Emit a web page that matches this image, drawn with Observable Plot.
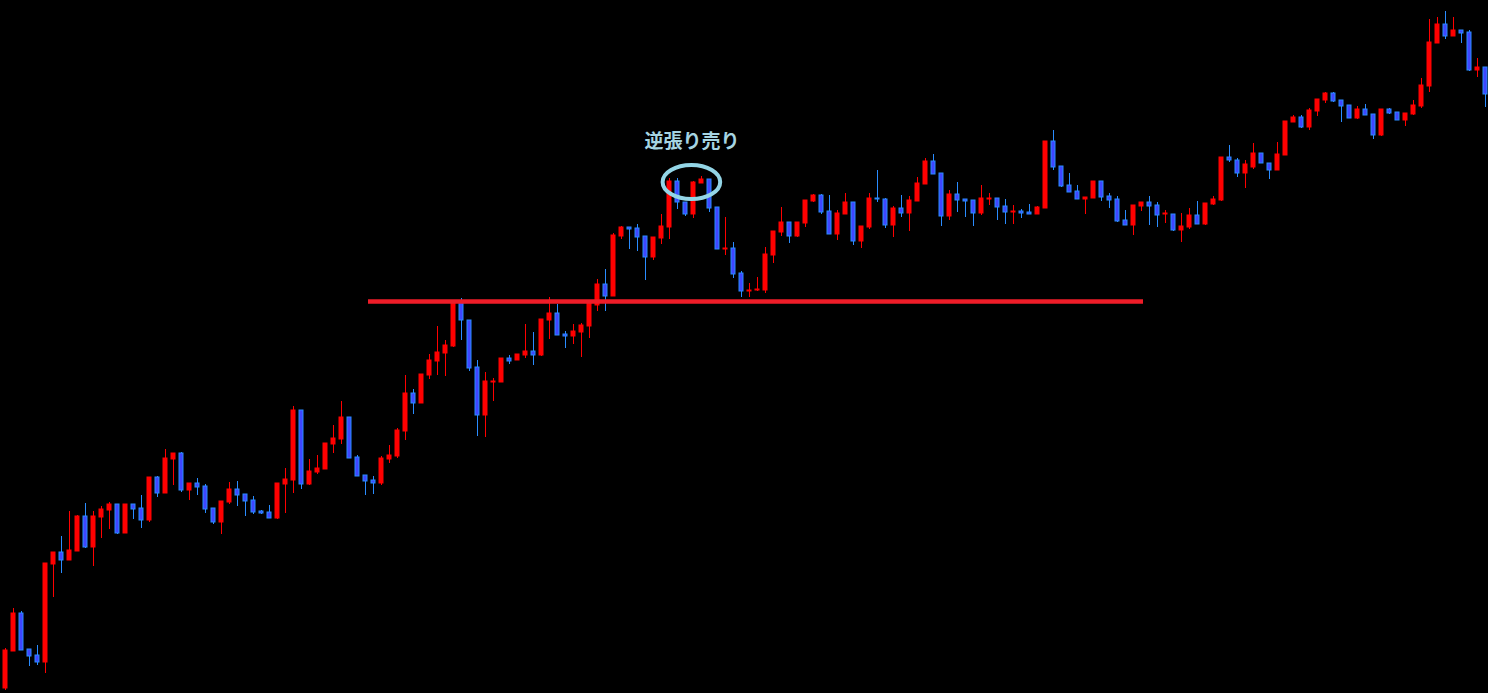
<!DOCTYPE html>
<html>
<head>
<meta charset="utf-8">
<script src="https://cdn.jsdelivr.net/npm/d3@7"></script>
<script src="https://cdn.jsdelivr.net/npm/@observablehq/plot@0.6"></script>
<style>
html,body{margin:0;padding:0;background:#000;overflow:hidden;}
#chart svg{display:block;}
</style>
</head>
<body>
<div id="chart"></div>
<script>
const open = [12,49,87,51,45,38,136,148,140,149,
184,153,183,190,196,167,196,192,180,223,
207,241,247,210,217,214,192,178,198,211,
206,200,189,188,182,216,220,290,216,228,
231,256,261,283,243,225,220,217,241,244,
269,307,297,325,339,347,354,398,380,333,
285,318,318,342,340,345,349,345,380,387,
366,364,368,374,395,416,404,464,473,472,
464,443,462,473,519,498,486,517,521,493,
451,452,427,409,410,410,445,468,478,464,
477,499,505,489,466,486,498,459,473,502,
501,475,492,487,499,516,539,527,484,506,
501,500,487,501,502,494,488,489,488,486,
492,559,534,515,509,501,502,519,504,501,
480,475,494,498,495,486,486,470,473,485,
476,496,500,543,540,527,533,547,537,530,
545,578,583,573,589,600,607,600,595,582,
591,586,565,591,588,580,586,594,614,657,
676,664,670,668,630,633];
const high = [52,92,89,51,55,137,148,164,189,185,
197,189,194,198,196,196,196,205,223,224,
251,247,248,217,222,216,192,199,218,219,
206,204,190,195,217,232,294,290,241,245,
257,275,299,283,245,225,224,244,255,272,
325,311,326,346,374,360,400,402,380,340,
328,322,342,345,346,376,368,381,403,396,
369,376,377,398,421,431,467,474,473,476,
464,463,486,522,522,498,519,524,521,493,
483,458,429,417,423,453,469,493,478,478,
500,506,506,505,490,507,498,474,507,530,
502,494,505,504,523,542,546,527,510,518,
501,500,515,507,502,501,495,491,496,494,
559,570,534,527,515,503,519,519,507,504,
490,495,498,504,498,490,486,487,492,499,
497,504,543,555,542,540,557,547,537,558,
579,585,585,592,601,608,608,600,595,594,
596,586,591,592,588,587,600,622,681,683,
689,683,670,670,642,633];
const low = [10,49,50,34,35,27,103,127,140,149,
152,134,162,171,166,167,181,172,178,203,
207,215,208,200,205,187,176,166,196,194,
184,186,186,182,181,187,207,211,215,226,
231,247,256,242,224,205,206,215,237,242,
260,286,297,321,325,324,353,360,329,264,
263,299,318,336,340,342,335,344,361,365,
352,356,343,362,389,389,404,461,451,449,
420,440,456,461,491,484,482,517,488,451,
445,422,403,403,409,407,437,464,457,463,
473,498,486,466,460,486,455,452,471,498,
472,463,483,469,499,516,526,474,480,488,
483,474,485,495,480,476,476,482,486,486,
492,530,513,508,501,486,502,499,492,478,
475,465,489,475,473,477,469,458,471,476,
475,495,499,538,523,512,531,537,521,530,
545,578,572,570,584,597,598,578,582,581,
585,561,564,586,580,574,585,592,608,657,
661,664,657,629,623,593];
const close = [50,87,50,44,38,137,148,140,150,184,
153,184,191,196,167,196,191,180,223,207,
242,247,210,217,213,191,178,199,211,205,
199,188,187,182,217,221,290,216,229,232,
257,262,283,242,224,219,217,242,245,270,
307,297,326,340,348,355,398,380,332,285,
319,319,342,339,346,349,345,381,387,365,
364,369,375,398,416,404,465,473,471,463,
443,463,474,519,498,486,518,521,492,451,
452,426,409,410,411,446,469,478,464,478,
500,505,488,466,487,498,459,474,502,501,
475,492,487,500,517,539,526,484,506,500,
499,487,502,502,493,488,489,487,486,493,
559,533,514,508,501,503,519,503,500,479,
475,495,498,494,485,487,470,474,485,476,
497,501,543,540,527,536,547,537,530,546,
579,583,573,590,601,607,599,594,582,591,
585,565,591,587,580,587,595,615,658,676,
664,670,667,630,633,606];

// horizontal resistance/support line: price level and candle-index span
const levelPrice = [399];
const levelFrom = [45.375];
const levelTo = [142.25];

// annotation
const noteText = ["逆張り売り"];
const noteIndex = [85.8];
const notePrice = [558.5];
const ringIndex = [85.8];
const ringPrice = [518];
const ringRadiusIndex = [3.6];
const ringRadiusPrice = [17];

const candles = open.map((o, i) => ({i, open: o, high: high[i], low: low[i], close: close[i]}));
const up = candles.filter(d => d.close >= d.open);
const down = candles.filter(d => d.close < d.open);
const levels = levelPrice.map((p, j) => ({price: p, from: levelFrom[j], to: levelTo[j]}));
const notes = noteText.map((t, j) => ({text: t, i: noteIndex[j], price: notePrice[j]}));
const rings = ringIndex.map((c, j) => ({i: c, price: ringPrice[j], ri: ringRadiusIndex[j], rp: ringRadiusPrice[j]}));

const RED = "#ff0000";
const BLUE_FILL = "#3f46ff";
const BLUE_EDGE = "#2a8cff";
const HW = 0.25;

function ringMark(index, scales) {
  const x = scales.x, y = scales.y;
  const g = document.createElementNS("http://www.w3.org/2000/svg", "g");
  for (const r of rings) {
    const e = document.createElementNS("http://www.w3.org/2000/svg", "ellipse");
    const cx = x(r.i), cy = y(r.price);
    e.setAttribute("cx", cx);
    e.setAttribute("cy", cy);
    e.setAttribute("rx", Math.abs(x(r.i + r.ri) - cx));
    e.setAttribute("ry", Math.abs(y(r.price + r.rp) - cy));
    e.setAttribute("fill", "none");
    e.setAttribute("stroke", "#93d5e6");
    e.setAttribute("stroke-width", 4);
    g.appendChild(e);
  }
  return g;
}

const chart = Plot.plot({
  width: 1488,
  height: 693,
  margin: 0,
  style: {background: "#000"},
  x: {domain: [-0.625, 185.375], axis: null},
  y: {domain: [7, 700], axis: null},
  marks: [
    Plot.ruleX(up, {x: "i", y1: "low", y2: "high", stroke: RED, strokeWidth: 1}),
    Plot.ruleX(down, {x: "i", y1: "low", y2: "high", stroke: BLUE_EDGE, strokeWidth: 1}),
    Plot.rect(up, {x1: d => d.i - HW, x2: d => d.i + HW, y1: "open", y2: "close", fill: RED, stroke: RED, strokeWidth: 1}),
    Plot.rect(down, {x1: d => d.i - HW, x2: d => d.i + HW, y1: "open", y2: "close", fill: BLUE_FILL, stroke: BLUE_EDGE, strokeWidth: 1}),
    Plot.ruleY(levels, {y: "price", x1: "from", x2: "to", stroke: "#ee1c28", strokeWidth: 4.5}),
    ringMark,
    Plot.text(notes, {x: "i", y: "price", text: "text", fill: "#a6d4e2", fontSize: 19, fontWeight: "bold", fontFamily: "'Noto Sans CJK JP', sans-serif"})
  ]
});
document.getElementById("chart").appendChild(chart);
</script>
</body>
</html>
